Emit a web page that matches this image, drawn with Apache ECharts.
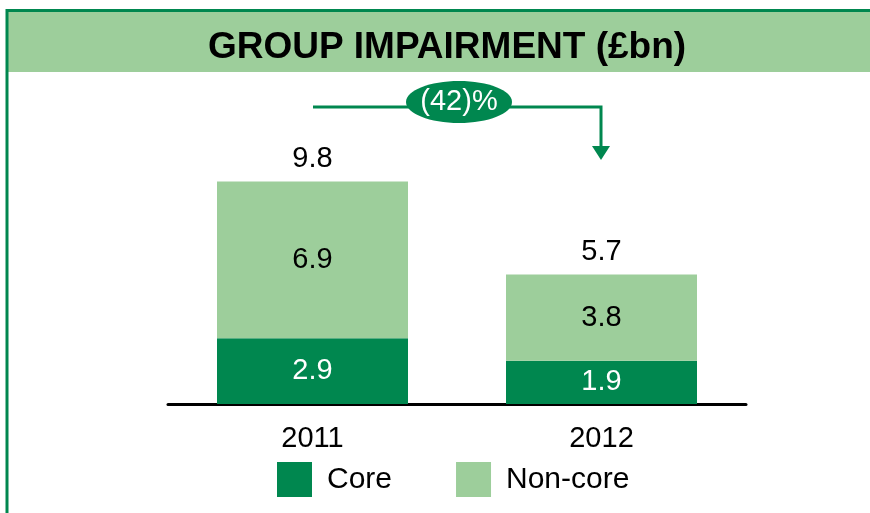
<!DOCTYPE html>
<html>
<head>
<meta charset="utf-8">
<script src="https://cdn.jsdelivr.net/npm/echarts@6/dist/echarts.min.js"></script>
<style>
  html, body { margin: 0; padding: 0; background: #fff; }
  #chart { width: 870px; height: 513px; }
</style>
</head>
<body>
<div id="chart"></div>
<script>
  // values (£bn)
  const years = ['2011', '2012']
  const core = [2.9, 1.9]
  const nonCore = [6.9, 3.8]
  const totals = [9.8, 5.7]
  const change = '(42)%'

  const DARK = '#00874F'
  const LIGHT = '#9DCE9B'
  const FONT = 'Liberation Sans, Arial, sans-serif'

  const myChart = echarts.init(document.getElementById('chart'))

  const option = {
    backgroundColor: '#fff',
    animation: false,
    textStyle: { fontFamily: FONT },
    title: {
      text: 'GROUP IMPAIRMENT (£bn)',
      left: 442,
      top: 43,
      textAlign: 'center',
      textVerticalAlign: 'middle',
      textStyle: { fontSize: 37, fontWeight: 'bold', color: '#000', fontFamily: FONT }
    },
    legend: {
      data: ['Core', 'Non-core'],
      left: 277,
      top: 462,
      padding: 0,
      itemWidth: 35,
      itemHeight: 35,
      itemGap: 64,
      icon: 'rect',
      textStyle: { fontSize: 30, color: '#000', padding: [5, 0, 0, 10] }
    },
    grid: { left: 168, right: 124, top: 177, bottom: 109 },
    xAxis: {
      type: 'category',
      data: years,
      axisLine: { lineStyle: { color: '#000', width: 3 } },
      axisTick: { show: false },
      axisLabel: { fontSize: 29, color: '#000', margin: 20 }
    },
    yAxis: {
      type: 'value',
      min: 0,
      max: 10,
      show: false
    },
    series: [
      {
        name: 'Core',
        type: 'bar',
        stack: 'imp',
        barWidth: 191,
        data: core,
        itemStyle: { color: DARK },
        label: { show: true, position: 'inside', color: '#fff', fontSize: 29 }
      },
      {
        name: 'Non-core',
        type: 'bar',
        stack: 'imp',
        data: nonCore,
        itemStyle: { color: LIGHT },
        label: { show: true, position: 'inside', color: '#000', fontSize: 29 }
      },
      {
        name: 'total',
        type: 'bar',
        stack: 'imp',
        data: years.map(() => 0),
        itemStyle: { color: 'transparent' },
        label: {
          show: true,
          position: 'top',
          distance: 8,
          color: '#000',
          fontSize: 29,
          formatter: p => totals[p.dataIndex].toFixed(1)
        }
      }
    ],
    graphic: [
      // slide frame and title band
      { type: 'rect', z: -10, shape: { x: 7, y: 11, width: 870, height: 61 }, style: { fill: LIGHT } },
      { type: 'line', z: -5, shape: { x1: 6, y1: 10.5, x2: 870, y2: 10.5 }, style: { stroke: DARK, lineWidth: 3 } },
      { type: 'line', z: -5, shape: { x1: 7, y1: 9, x2: 7, y2: 513 }, style: { stroke: DARK, lineWidth: 3 } },
      // change arrow
      {
        type: 'polyline',
        shape: { points: [[313, 107], [601, 107], [601, 150]] },
        style: { stroke: DARK, lineWidth: 3, fill: null }
      },
      {
        type: 'polygon',
        shape: { points: [[592, 146], [610, 146], [601, 160]] },
        style: { fill: DARK }
      },
      {
        type: 'ellipse',
        shape: { cx: 459, cy: 102, rx: 53, ry: 21 },
        style: { fill: DARK }
      },
      {
        type: 'text',
        x: 459,
        y: 102,
        style: {
          text: change,
          fill: '#fff',
          font: '29px ' + FONT,
          align: 'center',
          verticalAlign: 'middle'
        }
      }
    ]
  }

  myChart.setOption(option)

  window.addEventListener('resize', () => {
    myChart.resize()
  })
</script>
</body>
</html>
